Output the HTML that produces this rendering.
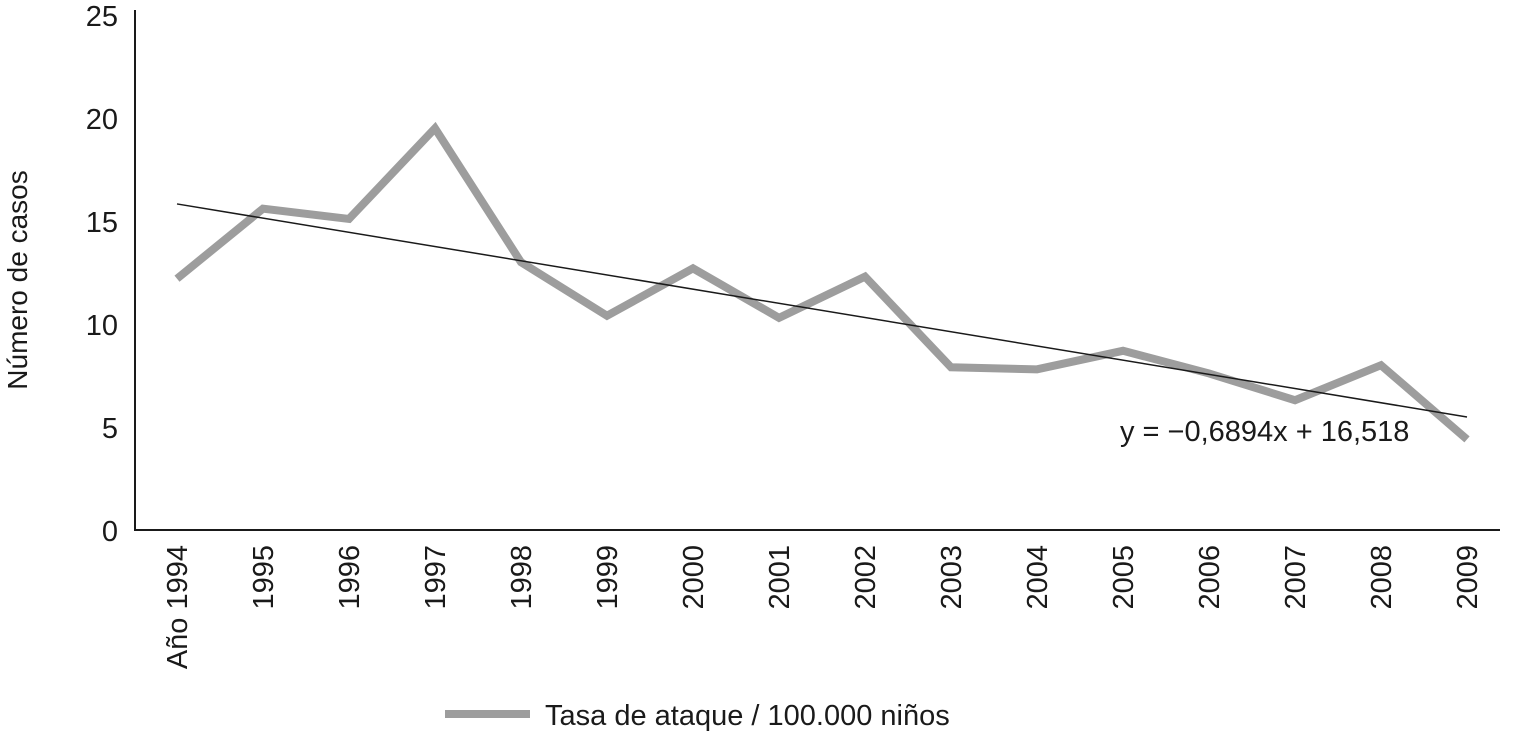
<!DOCTYPE html>
<html><head><meta charset="utf-8"><style>
body{margin:0;background:#fff;width:1513px;height:732px;overflow:hidden}
svg text{font-family:"Liberation Sans Narrow","Liberation Sans",sans-serif;fill:#1a1a1a}
</style></head><body>
<svg id="c" width="1513" height="732"></svg>
<script>
const categories=["Año 1994","1995","1996","1997","1998","1999","2000","2001","2002","2003","2004","2005","2006","2007","2008","2009"];
const rates=[12.2,15.6,15.1,19.5,13.0,10.4,12.7,10.3,12.3,7.9,7.8,8.7,7.6,6.3,8.0,4.4];
const yTicks=[0,5,10,15,20,25];
const slope=-0.6894, intercept=16.518;
const svg=document.getElementById('c');const NS='http://www.w3.org/2000/svg';
const X=i=>177+i*86, Y=v=>530-v*20.6;
function mk(t,a,p){const e=document.createElementNS(NS,t);for(const k in a)e.setAttribute(k,a[k]);(p||svg).appendChild(e);return e;}
let e;
e=mk('line',{x1:135,y1:10,x2:135,y2:530,stroke:'#1a1a1a','stroke-width':2});


e=mk('line',{x1:134,y1:530,x2:1500,y2:530,stroke:'#1a1a1a','stroke-width':2});


yTicks.forEach(v=>{e=mk('text',{x:118,y:Y(v)+11,'text-anchor':'end','font-size':29});e.textContent=v;

});
categories.forEach((c,i)=>{e=mk('text',{transform:`translate(${X(i)+10},545) rotate(-90)`,'text-anchor':'end','font-size':29});e.textContent=c;

});
e=mk('text',{transform:'translate(27,280) rotate(-90)','text-anchor':'middle','font-size':28});e.textContent='Número de casos';


e=mk('polyline',{points:rates.map((v,i)=>X(i)+','+Y(v)).join(' '),fill:'none',stroke:'#9d9d9d','stroke-width':8,'stroke-linejoin':'miter'});


e=mk('line',{x1:X(0),y1:Y(slope*1+intercept),x2:X(15),y2:Y(slope*16+intercept),stroke:'#1a1a1a','stroke-width':1.5});


e=mk('text',{x:1120,y:441,'font-size':29});e.textContent='y = −0,6894x + 16,518';


e=mk('line',{x1:445,y1:714,x2:530,y2:714,stroke:'#9d9d9d','stroke-width':8});


e=mk('text',{x:545,y:725,'font-size':29});e.textContent='Tasa de ataque / 100.000 niños';


</script></body></html>
